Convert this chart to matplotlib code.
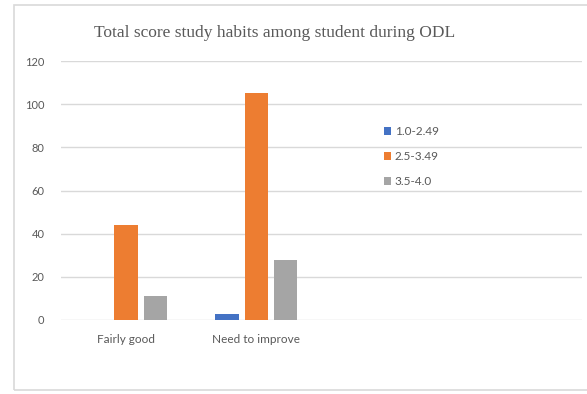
import numpy as np
import matplotlib.pyplot as plt
from matplotlib.patches import Rectangle

categories = ["Fairly good", "Need to improve"]
series_names = ["1.0-2.49", "2.5-3.49", "3.5-4.0"]
low = [0, 3]
mid = [44, 105]
high = [11, 28]
colors = ["#4472C4", "#ED7D31", "#A5A5A5"]

plt.rcParams['font.family'] = ['Lato', 'DejaVu Sans']

fig = plt.figure(figsize=(5.87, 3.94), dpi=100)
fig.patches.append(Rectangle((14 / 587, 4 / 394), 580 / 587, 385 / 394,
                             transform=fig.transFigure, fill=False,
                             edgecolor="#d9d9d9", linewidth=1.2))
ax = fig.add_axes([61 / 587, 74 / 394, 521 / 587, 259 / 394])

x = np.arange(len(categories))
w = 0.18
step = 0.225
for i, (vals, name) in enumerate(zip([low, mid, high], series_names)):
    ax.bar(x + (i - 1) * step, vals, width=w, color=colors[i], label=name, zorder=3)

ax.set_xlim(-0.5, 3.5)
ax.set_ylim(0, 120)
ax.set_yticks(range(0, 121, 20))
ax.set_xticks(x)
ax.set_xticklabels(categories, fontsize=9)
ax.tick_params(length=0, labelsize=8.5, colors="#595959", pad=10)
ax.tick_params(axis='y', labelsize=8, pad=12)
ax.grid(axis='y', color="#d9d9d9", linewidth=1, zorder=0)
for s in ax.spines.values():
    s.set_visible(False)

fig.text(0.467, 0.915, "Total score study habits among student during ODL",
         ha='center', va='center', family='Liberation Serif', fontsize=12.5,
         color="#595959")

leg = ax.legend(loc='upper left', bbox_to_anchor=(0.6, 0.79), frameon=False,
                fontsize=8.5, labelcolor="#595959", handlelength=0.6,
                handleheight=0.6, handletextpad=0.3, labelspacing=1.2)

fig.savefig("out.png", dpi=100)
